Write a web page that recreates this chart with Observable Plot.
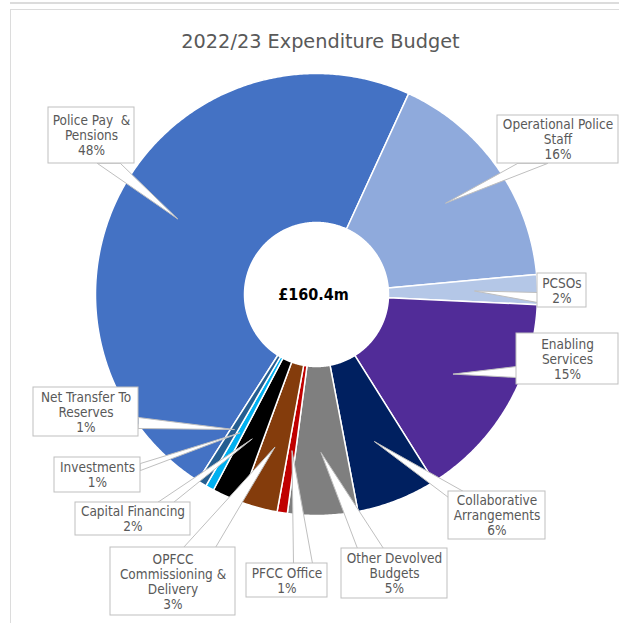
<!DOCTYPE html>
<html>
<head>
<meta charset="utf-8">
<script src="https://cdn.jsdelivr.net/npm/d3@7"></script>
<script src="https://cdn.jsdelivr.net/npm/@observablehq/plot@0.6"></script>
<style>
  html, body { margin: 0; padding: 0; background: #fff; }
  #wrap { position: relative; width: 619px; height: 623px; overflow: hidden; }
  .fr { position: absolute; background: #dcdcdc; }
  #chart { position: absolute; left: 0; top: 0; }
</style>
</head>
<body>
<div id="wrap">
  <div class="fr" style="left:10px; top:2px; width:609px; height:2px;"></div>
  <div class="fr" style="left:10px; top:9px; width:609px; height:1px;"></div>
  <div class="fr" style="left:10px; top:9px; width:1px; height:614px;"></div>
  <div id="chart"></div>
</div>
<script>
// ---- data ----
const title = "2022/23 Expenditure Budget";
const total = "£160.4m";
const categories = [
  "Police Pay & Pensions", "Operational Police Staff", "PCSOs", "Enabling Services",
  "Collaborative Arrangements", "Other Devolved Budgets", "PFCC Office",
  "OPFCC Commissioning & Delivery", "Capital Financing", "Investments", "Net Transfer To Reserves"
];
const values = [76.7, 26.8, 3.5, 24.6, 9.5, 8.2, 1.2, 4.4, 3.4, 1.0, 1.1]; // £m (estimated)
const percentLabels = ["48%", "16%", "2%", "15%", "6%", "5%", "1%", "3%", "2%", "1%", "1%"];
const labelText = [
  "Police Pay  &\nPensions", "Operational Police\nStaff", "PCSOs", "Enabling\nServices",
  "Collaborative\nArrangements", "Other Devolved\nBudgets", "PFCC Office",
  "OPFCC\nCommissioning &\nDelivery", "Capital Financing", "Investments", "Net Transfer To\nReserves"
];
const colors = ["#4472C4", "#8FAADC", "#B4C7E7", "#512C98", "#002060", "#7F7F7F",
  "#C00000", "#843C0C", "#000000", "#00B0F0", "#255E91"];

// ---- layout (pixel geometry) ----
const cx = 316, cy = 294, R = 221, r0 = 72, tipR = 158;
const startDeg = -147.5;
const boxes = [
  {box: [48, 107, 134, 163], base: [[97, 163], [120, 163]]},
  {box: [497, 115, 618, 163], base: [[517, 163], [547, 163]]},
  {box: [537, 273, 586, 307], base: [[537, 292], [537, 302]]},
  {box: [516, 333, 618, 384], base: [[516, 366], [516, 377]]},
  {box: [448, 491, 545, 539], base: [[448, 497], [463, 491]]},
  {box: [341, 548, 447, 598], base: [[357, 548], [383, 548]]},
  {box: [246, 563, 327, 597], base: [[293, 563], [312, 563]]},
  {box: [110, 547, 235, 615], base: [[183, 547], [215, 547]]},
  {box: [75, 502, 190, 535], base: [[157, 502], [173, 502]]},
  {box: [54, 457, 140, 492], base: [[140, 463], [140, 470]]},
  {box: [33, 387, 138, 436], base: [[138, 417], [138, 428]]}
];

// ---- build geometry from data ----
const rad = d => d * Math.PI / 180;
const pt = (a, rr) => [cx + rr * Math.sin(a), cy - rr * Math.cos(a)];
const arcs = d3.pie().sort(null).value(d => d)
  .startAngle(rad(startDeg)).endAngle(rad(startDeg) + 2 * Math.PI)(values);

const slicePts = [];
arcs.forEach((a, i) => {
  const n = Math.max(2, Math.ceil((a.endAngle - a.startAngle) / rad(0.5)));
  for (let k = 0; k <= n; k++) {
    const t = a.startAngle + (a.endAngle - a.startAngle) * k / n;
    const [x, y] = pt(t, R);
    slicePts.push({cat: categories[i], x, y});
  }
  for (let k = n; k >= 0; k--) {
    const t = a.startAngle + (a.endAngle - a.startAngle) * k / n;
    const [x, y] = pt(t, r0);
    slicePts.push({cat: categories[i], x, y});
  }
});

const wedgePts = [];
arcs.forEach((a, i) => {
  const mid = (a.startAngle + a.endAngle) / 2;
  const [tx, ty] = pt(mid, tipR);
  const b = boxes[i].base;
  wedgePts.push({cat: categories[i], x: b[0][0], y: b[0][1]});
  wedgePts.push({cat: categories[i], x: tx, y: ty});
  wedgePts.push({cat: categories[i], x: b[1][0], y: b[1][1]});
});

const boxData = categories.map((c, i) => ({
  cat: c,
  x1: boxes[i].box[0], y1: boxes[i].box[1], x2: boxes[i].box[2], y2: boxes[i].box[3],
  label: labelText[i] + "\n" + percentLabels[i]
}));

const font = "'DejaVu Sans Condensed', 'DejaVu Sans', Verdana, sans-serif";

const chart = Plot.plot({
  width: 619, height: 623,
  margin: 0,
  style: {background: "transparent", fontFamily: font},
  x: {domain: [0, 619], range: [0, 619], axis: null},
  y: {domain: [0, 623], range: [0, 623], axis: null},
  color: {domain: categories, range: colors},
  marks: [
    Plot.line(slicePts, {x: "x", y: "y", z: "cat", fill: "cat", stroke: "white", strokeWidth: 1.5, curve: "linear-closed"}),
    Plot.line(wedgePts, {x: "x", y: "y", z: "cat", fill: "white", stroke: "#bfbfbf", strokeWidth: 1, curve: "linear-closed"}),
    Plot.rect(boxData, {x1: "x1", x2: "x2", y1: "y1", y2: "y2", fill: "white", stroke: "#bfbfbf", strokeWidth: 1}),
    Plot.text(boxData, {x: d => (d.x1 + d.x2) / 2, y: d => (d.y1 + d.y2) / 2, text: "label",
      fill: "#595959", fontSize: 13.5, lineHeight: 1.1, lineAnchor: "middle", textAnchor: "middle"}),
    Plot.text([title], {x: () => 320, y: () => 41, text: d => d, fill: "#595959", fontSize: 19.3,
      fontFamily: "'DejaVu Sans', Verdana, sans-serif", lineAnchor: "middle"}),
    Plot.text([total], {x: () => 313, y: () => cy, text: d => d, fill: "#000", fontSize: 16, fontWeight: "bold", lineAnchor: "middle"})
  ]
});
document.getElementById("chart").appendChild(chart);
</script>
</body>
</html>
